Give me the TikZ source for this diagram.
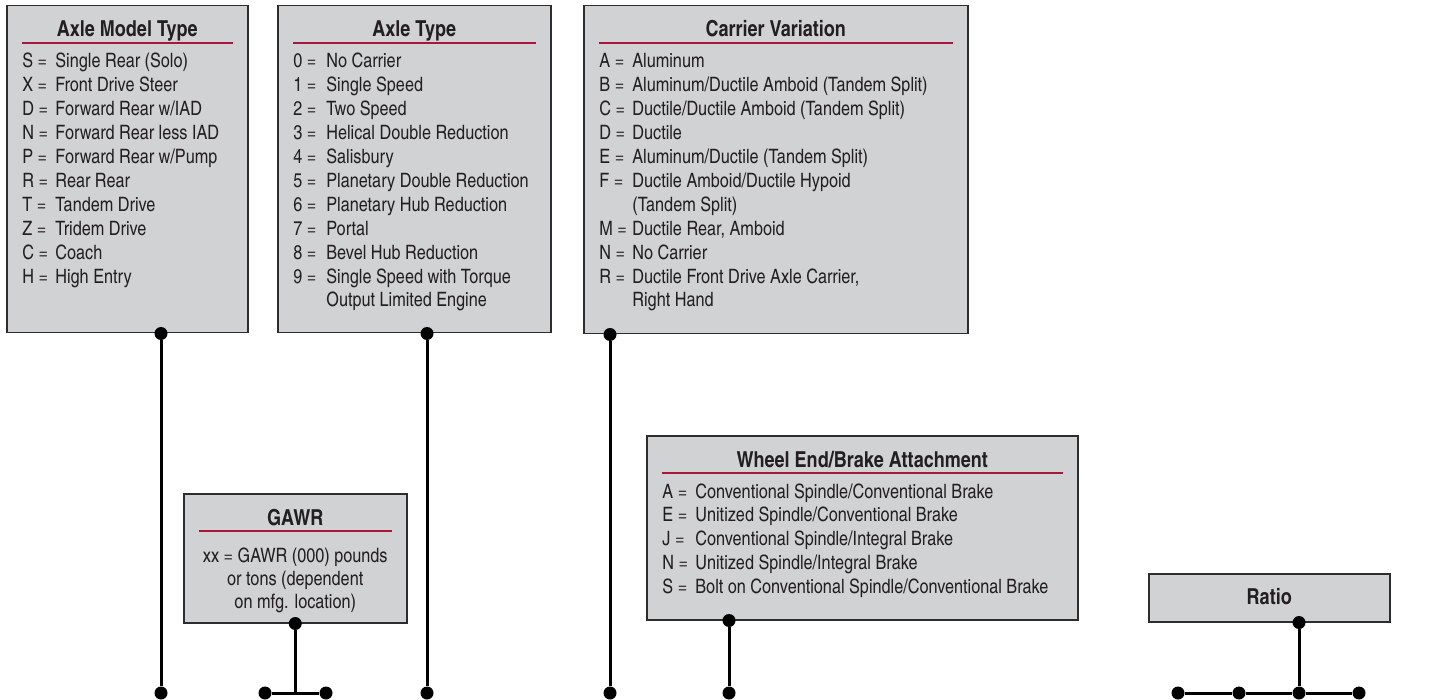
\documentclass[tikz,border=0pt]{standalone}
\usepackage{fontspec}
\setmainfont{texgyreheroscn}[Extension=.otf, UprightFont=*-regular, BoldFont=*-bold, ItalicFont=*-italic, BoldItalicFont=*-bolditalic]
\definecolor{boxfill}{RGB}{209,210,212}
\definecolor{boxline}{RGB}{45,45,45}
\definecolor{rulered}{RGB}{166,25,60}
\definecolor{ink}{RGB}{35,31,32}
\newcommand{\code}[2]{\makebox[16.5pt][l]{#1 =}#2}
\newcommand{\cont}[1]{\hspace*{16.5pt}#1}
\newcommand{\entries}[2][l]{\begin{tabular}[t]{@{}#1@{}}#2\end{tabular}}
\begin{document}
\begin{tikzpicture}[x=0.5pt,y=-0.5pt,
        box/.style={draw=boxline,fill=boxfill,line width=0.75pt,anchor=north west,inner sep=0pt},
        head/.style={anchor=base,inner sep=0pt,text=ink,font=\fontsize{11}{13}\selectfont\bfseries},
        rule/.style={draw=rulered,line width=1pt},
        list/.style={anchor=base west,inner sep=0pt,text=ink,font=\fontsize{9.9}{11.95}\selectfont},
        link/.style={line width=1.5pt},
        dot/.style={circle,fill=black,inner sep=0pt,minimum size=6.5pt}]
    \useasboundingbox (0,0) rectangle (1430,700);
    % code boxes
    \node[box,minimum width=120.5pt,minimum height=163.5pt] (amt) at (6,5) {};
    \node[box,minimum width=136.5pt,minimum height=163.5pt] (at) at (277,5) {};
    \node[box,minimum width=192pt,minimum height=164pt] (cv) at (583,5) {};
    \node[box,minimum width=111.5pt,minimum height=64.5pt] (gawr) at (183,493) {};
    \node[box,minimum width=215.5pt,minimum height=92pt] (web) at (646,435) {};
    \node[box,minimum width=120.5pt,minimum height=24pt] (ratio) at (1148,573) {};
    % headings and red rules
    \foreach \b/\t in {amt/Axle Model Type,at/Axle Type,cv/Carrier Variation,gawr/GAWR,web/{Wheel End/Brake Attachment}}{
        \node[head] (\b-head) at ([yshift=-16pt]\b.north) {\t};
        \draw[rule] ([xshift=8pt,yshift=-19pt]\b.north west) -- ([xshift=-8pt,yshift=-19pt]\b.north east);
    }
    \node[head] (ratio-head) at ([yshift=-15.5pt]ratio.north) {Ratio};
    % entries
    \node[list] (amt-list) at ([xshift=8pt,yshift=-31.5pt]amt.north west) {\entries{\code{S}{Single Rear (Solo)}\\ \code{X}{Front Drive Steer}\\
        \code{D}{Forward Rear w/IAD}\\ \code{N}{Forward Rear less IAD}\\ \code{P}{Forward Rear w/Pump}\\ \code{R}{Rear Rear}\\
        \code{T}{Tandem Drive}\\ \code{Z}{Tridem Drive}\\ \code{C}{Coach}\\ \code{H}{High Entry}}};
    \node[list] (at-list) at ([xshift=8pt,yshift=-31.5pt]at.north west) {\entries{\code{0}{No Carrier}\\ \code{1}{Single Speed}\\
        \code{2}{Two Speed}\\ \code{3}{Helical Double Reduction}\\ \code{4}{Salisbury}\\ \code{5}{Planetary Double Reduction}\\
        \code{6}{Planetary Hub Reduction}\\ \code{7}{Portal}\\ \code{8}{Bevel Hub Reduction}\\
        \code{9}{Single Speed with Torque}\\ \cont{Output Limited Engine}}};
    \node[list] (cv-list) at ([xshift=8pt,yshift=-31.5pt]cv.north west) {\entries{\code{A}{Aluminum}\\
        \code{B}{Aluminum/Ductile Amboid (Tandem Split)}\\ \code{C}{Ductile/Ductile Amboid (Tandem Split)}\\
        \code{D}{Ductile}\\ \code{E}{Aluminum/Ductile (Tandem Split)}\\ \code{F}{Ductile Amboid/Ductile Hypoid}\\
        \cont{(Tandem Split)}\\ \code{M}{Ductile Rear, Amboid}\\ \code{N}{No Carrier}\\
        \code{R}{Ductile Front Drive Axle Carrier,}\\ \cont{Right Hand}}};
    \node[list,anchor=base,font=\fontsize{9.9}{11.6}\selectfont] (gawr-list) at ([yshift=-34.5pt]gawr.north)
        {\entries[c]{xx = GAWR (000) pounds\\ or tons (dependent\\ on mfg. location)}};
    \node[list] (web-list) at ([xshift=8pt,yshift=-31.5pt]web.north west) {\entries{\code{A}{Conventional Spindle/Conventional Brake}\\
        \code{E}{Unitized Spindle/Conventional Brake}\\ \code{J}{Conventional Spindle/Integral Brake}\\
        \code{N}{Unitized Spindle/Integral Brake}\\ \code{S}{Bolt on Conventional Spindle/Conventional Brake}}};
    % end points along the bottom
    \foreach \n/\x in {d1/161,d2a/265,d2b/326,d3/427,d4/610,d5/729,d6a/1178,d6b/1239,d6c/1299,d6d/1359}
        \node[dot] (\n) at (\x,693) {};
    % leads
    \node[dot] (t1) at (amt.south -| d1) {};
    \node[dot] (t2) at (gawr.south) {};
    \node[dot] (t3) at (at.south -| d3) {};
    \node[dot] (t4) at (cv.south -| d4) {};
    \node[dot] (t5) at (web.south -| d5) {};
    \node[dot] (t6) at (ratio.south -| d6c) {};
    \coordinate (j2) at (t2 |- d2a);
    \draw[link] (t1) -- (d1);
    \draw[link] (t2) -- (j2);
    \draw[link] (d2a) -- (d2b);
    \draw[link] (t3) -- (d3);
    \draw[link] (t4) -- (d4);
    \draw[link] (t5) -- (d5);
    \draw[link] (t6) -- (d6c);
    \draw[link] (d6a) -- (d6b) -- (d6c) -- (d6d);
\end{tikzpicture}
\end{document}
